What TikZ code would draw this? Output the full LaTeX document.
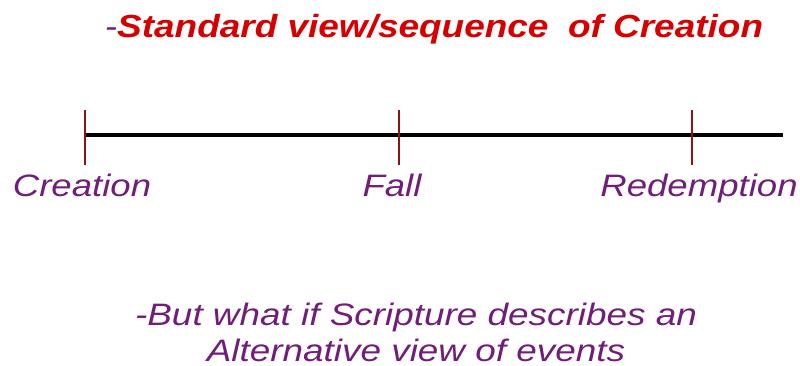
\documentclass[tikz,border=0pt]{standalone}
\usepackage{fontspec}
\setmainfont{Liberation Sans}
\usetikzlibrary{positioning}
\definecolor{eventpurple}{RGB}{112,30,120}
\definecolor{titlered}{RGB}{215,0,0}
\definecolor{tickred}{RGB}{140,20,20}
\tikzset{
axisline/.style={line width=3.8pt,black},
tickmark/.style={line width=2pt,tickred},
eventlbl/.style={
  font=\fontsize{31}{36}\selectfont\itshape,
  text=eventpurple,
  inner sep=0pt,
  xscale=1.18,
  anchor=base
  },
titlelbl/.style={
  eventlbl,
  font=\fontsize{32}{36}\selectfont\bfseries\itshape,
  xscale=1.155/1.18,
  text=titlered
  },
notelbl/.style={
  eventlbl,
  font=\fontsize{31}{36}\selectfont\itshape,
  xscale=1.19/1.18,
  align=center
  }
}

\begin{document}
\begin{tikzpicture}[x=1pt,y=1pt]

\useasboundingbox (0,0) rectangle (800,366);

\coordinate (start) at (85,231);
\coordinate (end) at (783,231);

\draw[axisline] (start) -- (end);

\coordinate (creationtop) at (85,256);
\coordinate (creationbot) at (85,201);
\coordinate (falltop) at (399,256);
\coordinate (fallbot) at (399,201);
\coordinate (redtop) at (692,256);
\coordinate (redbot) at (692,201);

\draw[tickmark] (creationtop) -- (creationbot);
\draw[tickmark] (falltop) -- (fallbot);
\draw[tickmark] (redtop) -- (redbot);

\node[eventlbl] (creation) at (82,169) {Creation};
\node[eventlbl] (fall) at (392,169) {Fall};
\node[eventlbl] (redemption) at (699,169) {Redemption};

\node[titlelbl] (title) at (434,328)
  {\textcolor{eventpurple}{\mdseries-}Standard view/sequence\hspace{8pt} of Creation};

\node[notelbl] (note) at (416,4)
  {-But what if Scripture describes an\\Alternative view of events};

\end{tikzpicture}
\end{document}
